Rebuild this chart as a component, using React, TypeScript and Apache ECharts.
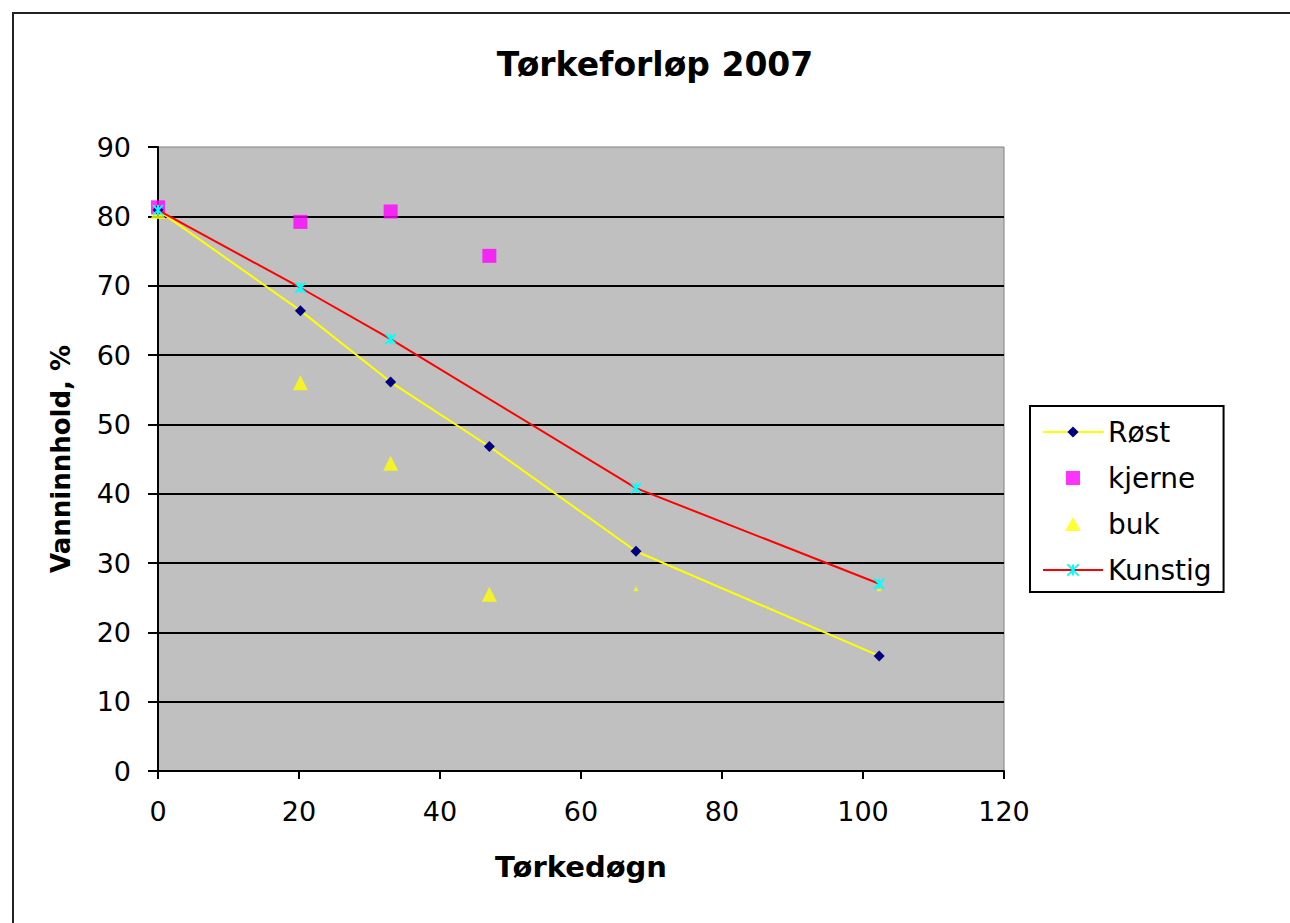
import React, { useEffect, useRef } from "react";
import * as echarts from "echarts";

const days = [0, 20.2, 33, 47, 67.8, 102.3];
const rost = [80.9, 66.4, 56.1, 46.8, 31.7, 16.6];
const kjerne = [81.3, 79.2, 80.7, 74.3];
const buk = [80.7, 56.0, 44.4, 25.5, 26.3, 26.3];
const kunstig = [80.9, 69.7, 62.3, null, 40.8, 27.0];
const xTicks = { min: 0, max: 120, interval: 20 };
const yTicks = { min: 0, max: 90, interval: 10 };

const pairs = (vals: (number | null)[]) =>
  vals.map((v, i) => [days[i], v]).filter((p) => p[1] !== null);

export default function App() {
  const ref = useRef<HTMLDivElement>(null);
  useEffect(() => {
    if (!ref.current) return;
    const chart = echarts.init(ref.current, undefined, { renderer: "svg" });
    const font = "DejaVu Sans";
    const splitColors = [
      "#000", "#000", "#000", "#000", "#000", "#000", "#000", "#000", "#000", "rgba(0,0,0,0)",
    ];
    chart.setOption({
      animation: false,
      backgroundColor: "#fff",
      graphic: [
        { type: "line", shape: { x1: 12, y1: 13, x2: 1290, y2: 13 }, style: { stroke: "#222", lineWidth: 2 } },
        { type: "line", shape: { x1: 13, y1: 12, x2: 13, y2: 923 }, style: { stroke: "#222", lineWidth: 2 } },
        {
          type: "text",
          x: 655,
          y: 64,
          style: {
            text: "Tørkeforløp 2007",
            font: `bold 33px "${font}"`,
            fill: "#000",
            textAlign: "center",
            textVerticalAlign: "middle",
          },
        },
      ],
      grid: {
        left: 158,
        top: 147,
        right: 286,
        bottom: 152,
        show: true,
        backgroundColor: "#C0C0C0",
        borderColor: "#808080",
        borderWidth: 1,
      },
      legend: {
        orient: "vertical",
        left: 1030,
        top: 406,
        padding: [12, 12, 8, 12],
        itemGap: 18,
        itemWidth: 60,
        itemHeight: 14,
        symbolKeepAspect: true,
        backgroundColor: "#fff",
        borderColor: "#000",
        borderWidth: 2,
        textStyle: { fontFamily: font, fontSize: 28, color: "#000" },
        data: [
          { name: "Røst" },
          { name: "kjerne", icon: "path://M0 0H10V10H0Z" },
          { name: "buk", icon: "path://M5 0L10 9L0 9Z" },
          { name: "Kunstig" },
        ],
      },
      xAxis: {
        type: "value",
        ...xTicks,
        name: "Tørkedøgn",
        nameLocation: "middle",
        nameGap: 81,
        nameTextStyle: { fontFamily: font, fontWeight: "bold", fontSize: 29, color: "#000" },
        axisLine: { show: true, lineStyle: { color: "#000", width: 2 } },
        axisTick: { show: true, length: 8, lineStyle: { color: "#000", width: 2 } },
        axisLabel: { fontFamily: font, fontSize: 27, color: "#000", margin: 27 },
        splitLine: { show: false },
      },
      yAxis: {
        type: "value",
        ...yTicks,
        name: "Vanninnhold, %",
        nameLocation: "middle",
        nameGap: 84,
        nameTextStyle: { fontFamily: font, fontWeight: "bold", fontSize: 26, color: "#000" },
        axisLine: { show: true, lineStyle: { color: "#000", width: 2 } },
        axisTick: { show: true, length: 10, lineStyle: { color: "#000", width: 2 } },
        axisLabel: { fontFamily: font, fontSize: 27, color: "#000", margin: 27 },
        splitLine: { show: true, lineStyle: { color: splitColors, width: 2 } },
      },
      series: [
        {
          name: "Røst",
          type: "line",
          data: pairs(rost),
          symbol: "diamond",
          symbolSize: 11,
          lineStyle: { color: "#FFFF00", width: 2 },
          itemStyle: { color: "#000080" },
        },
        {
          name: "kjerne",
          type: "scatter",
          data: pairs(kjerne),
          symbol: "rect",
          symbolSize: 14,
          itemStyle: { color: "#FF00FF" },
        },
        {
          name: "buk",
          type: "scatter",
          data: pairs(buk),
          symbol: "triangle",
          symbolSize: (_v: any, p: any) => (p.dataIndex >= 4 ? 5 : 15),
          itemStyle: { color: "#FFFF00" },
        },
        {
          name: "Kunstig",
          type: "line",
          data: pairs(kunstig),
          connectNulls: true,
          symbol: "path://M0 0L10 10M10 0L0 10M5 0L5 10",
          symbolSize: 10,
          lineStyle: { color: "#FF0000", width: 2 },
          itemStyle: { color: "#00FFFF", borderColor: "#00FFFF", borderWidth: 2 },
        },
      ],
    });
    return () => chart.dispose();
  }, []);
  return (
    <div
      ref={ref}
      style={{ position: "fixed", left: 0, top: 0, width: 1290, height: 923 }}
    />
  );
}
